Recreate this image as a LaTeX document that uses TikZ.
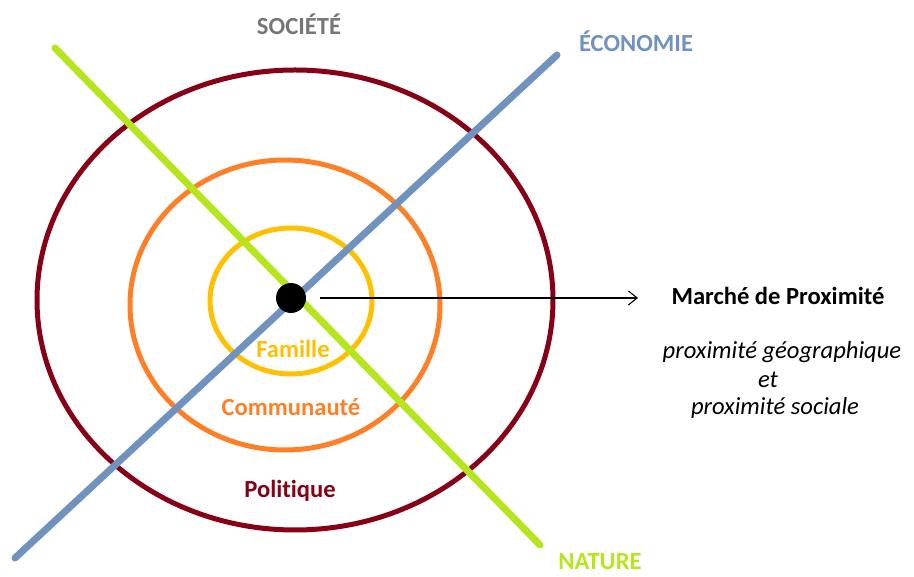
\documentclass[tikz,border=0pt]{standalone}
\usepackage{fontspec}
\setmainfont[Ligatures=NoCommon]{Carlito}
\usetikzlibrary{arrows.meta,calc}
\definecolor{mydarkred}{RGB}{136,0,21}
\definecolor{myorange}{RGB}{255,127,39}
\definecolor{myyellow}{RGB}{255,192,0}
\definecolor{mygreen}{RGB}{181,230,29}
\definecolor{myblue}{RGB}{112,146,190}
\definecolor{mygray}{RGB}{118,118,118}

\begin{document}
\begin{tikzpicture}[x=0.02cm,y=-0.02cm]

\tikzstyle{ring} = [line width=0.1cm]
\tikzstyle{axis} = [line width=0.14cm, line cap=round]
\tikzstyle{label} = [font=\fontsize{14}{17}\selectfont\bfseries, inner sep=0]
\tikzstyle{note} = [font=\fontsize{14}{17}\selectfont\itshape, inner sep=0]

\useasboundingbox (0,0) rectangle (914,577);

% =========================
% three rings
% =========================
\draw[ring, draw=mydarkred] (295,300) ellipse [x radius=258, y radius=230];
\draw[ring, draw=myorange] (285,305) ellipse [x radius=155, y radius=145];
\draw[ring, draw=myyellow] (291,301) ellipse [x radius=81, y radius=73];

% =========================
% two axes
% =========================
\coordinate (nat0) at (55,48);
\coordinate (nat1) at (540,545);
\coordinate (eco0) at (557,55);
\coordinate (eco1) at (15,558);

\draw[axis, draw=mygreen] (nat0) -- (nat1);
\draw[axis, draw=myblue] (eco0) -- (eco1);

% centre dot
\node[circle, fill=black, minimum size=0.6cm, inner sep=0] (dot) at (291,298) {};

% =========================
% labels
% =========================
\node[label, text=mygray] (societe) at (299,24) {SOCIÉTÉ};
\node[label, text=myblue] (economie) at (636,41) {ÉCONOMIE};
\node[label, text=mygreen] (nature) at (600,562) {NATURE};

\node[label, text=myyellow] (famille) at (293,349) {Famille};
\node[label, text=myorange] (communaute) at (291,407) {Communauté};
\node[label, text=mydarkred] (politique) at (290,491) {Politique};

% =========================
% arrow and text on the right
% =========================
\coordinate (tip) at (638,298);
\draw[-{Straight Barb[length=5pt,width=8pt]}, line width=0.6pt]
    (dot.east) ++(14,0) coordinate (start) -- (tip);

\node[label] (marche) at (778,296) {Marché de Proximité};
\node[note] (geo) at (782,352) {proximité géographique};
\node[note] (et) at (768,380) {et};
\node[note] (soc) at (775,408) {proximité sociale};

\end{tikzpicture}
\end{document}
